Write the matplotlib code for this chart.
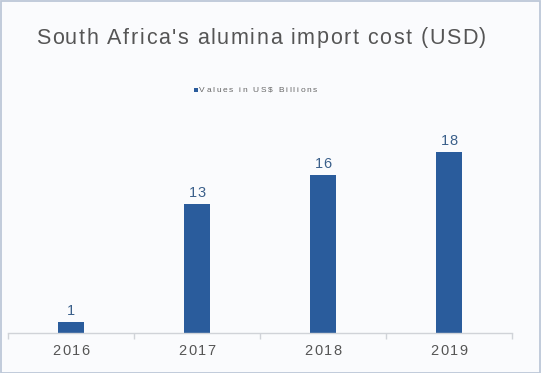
import matplotlib
matplotlib.use("Agg")
import matplotlib.pyplot as plt
from matplotlib.font_manager import FontProperties
from matplotlib.patches import Rectangle

years = ["2016", "2017", "2018", "2019"]
values = [1.1, 12.9, 15.8, 18.1]
value_labels = ["1", "13", "16", "18"]
title = "South Africa's alumina import cost (USD)"
legend_label = "Values in US$ Billions"

W, H = 541, 373
DPI = 100
BAR_COLOR = "#2a5c9c"
BG = "#fafbfd"

fig = plt.figure(figsize=(W / DPI, H / DPI), dpi=DPI, facecolor=BG)
renderer = fig.canvas.get_renderer()


def spaced_text(x_px, y_px, s, size, color, tracking, ha="center", weight="normal"):
    """Draw text with letter spacing; coordinates in pixels from top-left."""
    fp = FontProperties(family="Liberation Sans", size=size, weight=weight)
    widths = []
    for ch in s:
        if ch == " ":
            w, _, _ = renderer.get_text_width_height_descent("a a", fp, ismath=False)
            w2, _, _ = renderer.get_text_width_height_descent("aa", fp, ismath=False)
            widths.append(w - w2)
        else:
            w, _, _ = renderer.get_text_width_height_descent(ch, fp, ismath=False)
            widths.append(w)
    total = sum(widths) + tracking * (len(s) - 1)
    if ha == "center":
        x = x_px - total / 2
    elif ha == "left":
        x = x_px
    else:
        x = x_px - total
    for ch, w in zip(s, widths):
        fig.text(x / W, 1 - y_px / H, ch, fontproperties=fp, color=color,
                 ha="left", va="center")
        x += w + tracking
    return total


# axes: baseline at y=333 px, 10 px per unit, x from 8 to 512 px
left_px, right_px = 8, 512
base_px = 333
top_px = base_px - 200
ax = fig.add_axes([left_px / W, 1 - base_px / H, (right_px - left_px) / W, (base_px - top_px) / H])
ax.set_facecolor("none")
ax.set_xlim(-0.5, len(years) - 0.5)
ax.set_ylim(0, 20)
x = list(range(len(years)))
ax.bar(x, values, width=0.2, color=BAR_COLOR, zorder=2)

for s in ["top", "right", "left"]:
    ax.spines[s].set_visible(False)
ax.spines["bottom"].set_color("#d0d3d8")
ax.spines["bottom"].set_linewidth(1.0)
ax.set_yticks([])
ax.set_xticks([i - 0.5 for i in range(len(years) + 1)])
ax.set_xticklabels([])
ax.tick_params(axis="x", length=4, color="#d0d3d8", width=1)

# value labels
for xi, v, lab in zip(x, values, value_labels):
    ypx = base_px - v * 10 - 11
    xpx = left_px + (xi + 0.5) * (right_px - left_px) / len(years)
    spaced_text(xpx, ypx, lab, 10.5, "#3a5f8a", 0.8)

# category labels
for xi, yr in zip(x, years):
    xpx = left_px + (xi + 0.5) * (right_px - left_px) / len(years)
    spaced_text(xpx, 351, yr, 10.5, "#555555", 1.6)

# title
spaced_text(261, 38, title, 15.5, "#555555", 1.55)

# legend
tw = spaced_text(258, 90, legend_label, 6.0, "#666666", 1.7)
sq = 4
fig.patches.append(Rectangle(((258 - tw / 2 - sq - 1) / W, 1 - (90 + sq / 2) / H), sq / W, sq / H,
                             transform=fig.transFigure, facecolor=BAR_COLOR, edgecolor="none"))

# border
fig.patches.append(Rectangle((0.5 / W, 0.5 / H), (W - 1.5) / W, (H - 1.5) / H,
                             transform=fig.transFigure, facecolor="none",
                             edgecolor="#bcc7d8", linewidth=1.3))

fig.savefig("out.png", dpi=DPI, facecolor=BG)
